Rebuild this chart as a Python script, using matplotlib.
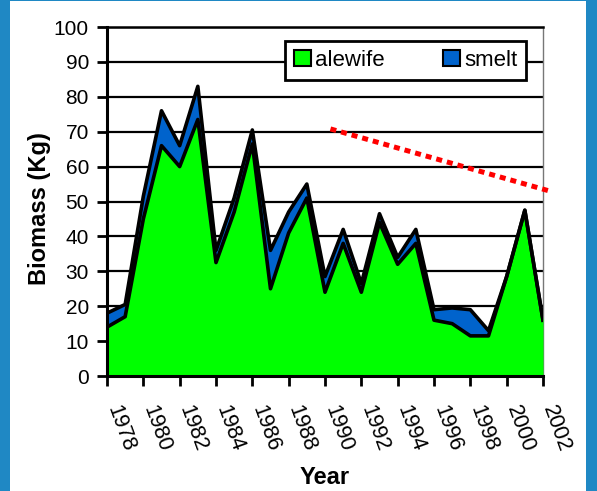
import numpy as np
import matplotlib.pyplot as plt
from matplotlib.patches import Rectangle

plt.rcParams['font.family'] = ['Liberation Sans', 'DejaVu Sans']

# survey years and biomass (kg)
years = np.arange(1978, 2003)
alewife = [14, 17, 45, 66, 60, 73.5, 32.5, 47, 66.5, 25, 41, 51, 24, 38, 24, 44,
           32, 38, 16, 15, 11.5, 11.5, 28.5, 47.5, 16]
smelt = [4, 3.5, 6.5, 10, 6, 9.5, 3.5, 4, 4, 11, 6, 4, 4.5, 4, 2.5, 2.5,
         2, 4, 3, 4.5, 7.5, 1.5, 0, 0, 0]
tick_years = np.arange(1978, 2003, 2)

# hand-drawn trend line
trend_years = [1990.3, 2002.5]
trend_values = [70.8, 52.8]

alewife = np.array(alewife)
total = alewife + np.array(smelt)

green = '#00ff00'
blue = '#0063cc'

fig = plt.figure(figsize=(5.97, 4.91), dpi=100)
fig.patch.set_facecolor('#1f88c4')
fig.add_artist(Rectangle((10/597, 0), 576/597, 490/491, transform=fig.transFigure,
                         facecolor='white', edgecolor='none', zorder=0))

ax = fig.add_axes([107/597, 115/491, 436/597, 349/491])
ax.set_facecolor('white')

ax.fill_between(years, alewife, total, color=blue, lw=0, zorder=3)
ax.fill_between(years, 0, alewife, color=green, lw=0, zorder=3)
ax.plot(years, total, color='black', lw=2.6, zorder=4)
ax.plot(years, alewife, color='black', lw=2.6, zorder=4)
ax.plot(trend_years, trend_values, color='#ff0000', lw=3.6,
        linestyle=(0, (1.2, 1.0)), clip_on=False, zorder=5)

ax.set_xlim(1978, 2002)
ax.set_ylim(0, 100)
ax.set_yticks(np.arange(0, 101, 10))
ax.set_xticks(tick_years)
ax.set_xticklabels([str(y) for y in tick_years], rotation=-70,
                   ha='left', va='baseline', rotation_mode='anchor')
ax.tick_params(axis='both', labelsize=15, width=2, length=7, color='black')
ax.tick_params(axis='x', labelsize=15.5, pad=16)
ax.tick_params(axis='y', pad=6)

ax.yaxis.grid(True, color='black', lw=1.6, zorder=1)
ax.set_axisbelow(True)
for side in ['left', 'bottom']:
    ax.spines[side].set_linewidth(2.2)
    ax.spines[side].set_zorder(6)
ax.spines['top'].set_linewidth(1.8)
ax.spines['right'].set_color('#777777')
ax.spines['right'].set_linewidth(1)

ax.set_ylabel('Biomass (Kg)', fontsize=17, fontweight='bold')
ax.yaxis.set_label_coords(-0.128, 0.48)
ax.set_xlabel('Year', fontsize=17, fontweight='bold')
ax.xaxis.set_label_coords(0.5, -0.258)

h1 = plt.Rectangle((0, 0), 1, 1, facecolor=green, edgecolor='black', lw=1.5)
h2 = plt.Rectangle((0, 0), 1, 1, facecolor=blue, edgecolor='black', lw=1.5)
leg = ax.legend([h1, h2], ['alewife', 'smelt'], ncol=2, loc='upper right',
                bbox_to_anchor=(0.961, 0.96), borderaxespad=0, fontsize=16,
                frameon=True, fancybox=False, edgecolor='black',
                handlelength=0.77, handleheight=0.68, handletextpad=0.18,
                columnspacing=2.6, borderpad=0.4, framealpha=1)
leg.get_frame().set_linewidth(2)
leg.set_zorder(7)

fig.savefig('out.png', dpi=100, facecolor=fig.get_facecolor())
